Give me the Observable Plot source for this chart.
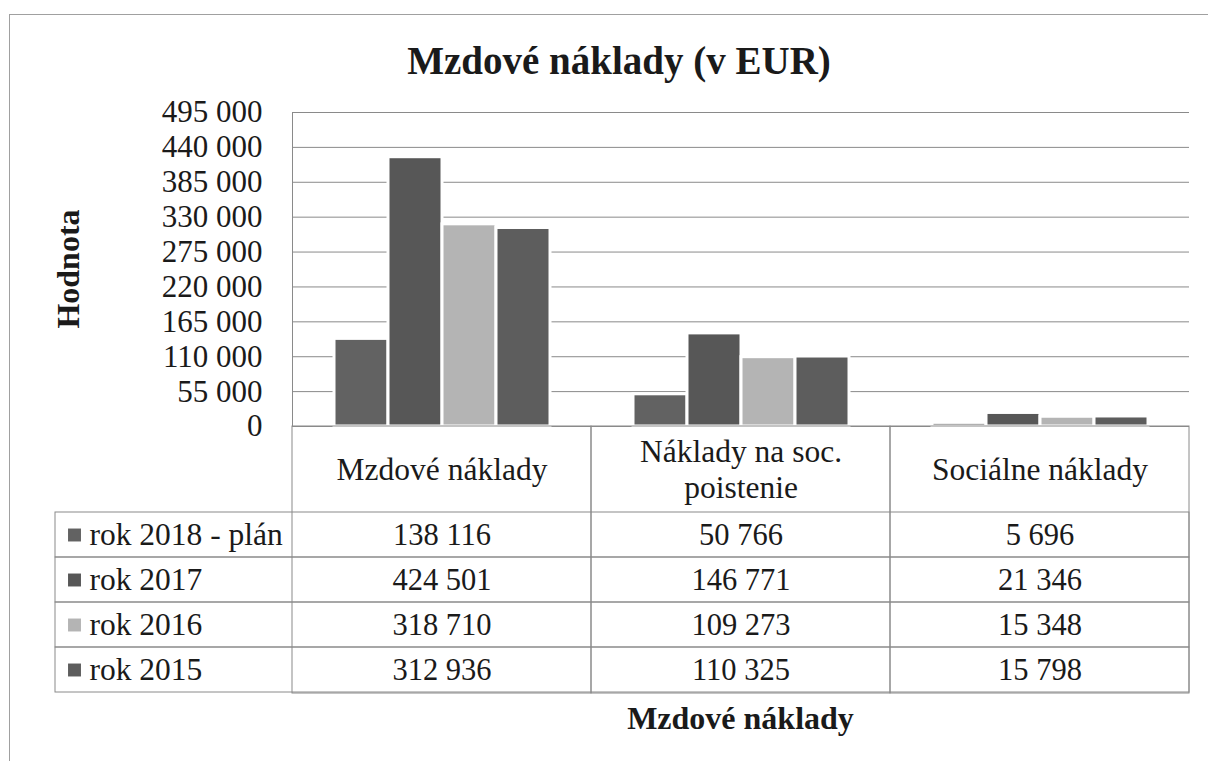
<!DOCTYPE html>
<html>
<head>
<meta charset="utf-8">
<script src="https://cdn.jsdelivr.net/npm/d3@7"></script>
<script src="https://cdn.jsdelivr.net/npm/@observablehq/plot@0.6"></script>
<style>
  html, body { margin: 0; padding: 0; background: #fff; overflow: hidden; }
  #wrap, #wrap div, #wrap svg, #wrap svg text, #wrap svg tspan { font-family: "Liberation Serif", "Times New Roman", serif !important; }
  #wrap { position: relative; width: 1208px; height: 761px; color: #1a1a1a; }
  #border { position: absolute; left: 9px; top: 14px; width: 1400px; height: 900px; border-left: 1px solid #a0a0a0; border-top: 1px solid #a0a0a0; }
  #title { position: absolute; left: 0; top: 41px; width: 1238px; text-align: center; font-weight: bold; font-size: 39px; line-height: 39px; }
  #xtitle { position: absolute; left: 292px; top: 702px; width: 897px; text-align: center; font-weight: bold; font-size: 32px; line-height: 32px; }
  #ytitle { position: absolute; left: 68px; top: 269px; width: 0; height: 0; }
  #ytitle span { position: absolute; left: 0; top: 0; transform: translate(-50%, -50%) rotate(-90deg); white-space: nowrap; font-weight: bold; font-size: 32px; line-height: 32px; }
  #p1 { position: absolute; left: 0; top: 0; }
  #p2 { position: absolute; left: 0; top: 420px; }
</style>
</head>
<body>
<div id="wrap">
  <div id="border"></div>
  <div id="p1"></div>
  <div id="p2"></div>
  <div id="title">Mzdové náklady (v EUR)</div>
  <div id="ytitle"><span>Hodnota</span></div>
  <div id="xtitle">Mzdové náklady</div>
</div>
<script>
const categories = ["Mzdové náklady", "Náklady na soc. poistenie", "Sociálne náklady"];
const headerLabels = ["Mzdové náklady", "Náklady na soc.\npoistenie", "Sociálne náklady"];
const series = ["rok 2018 - plán", "rok 2017", "rok 2016", "rok 2015"];
const values2018 = [138116, 50766, 5696];
const values2017 = [424501, 146771, 21346];
const values2016 = [318710, 109273, 15348];
const values2015 = [312936, 110325, 15798];
const yTicks = [0, 55000, 110000, 165000, 220000, 275000, 330000, 385000, 440000, 495000];
const seriesColors = ["#626262", "#575757", "#b4b4b4", "#5d5d5d"];

const seriesValues = [values2018, values2017, values2016, values2015];
const data = [];
series.forEach((s, si) => categories.forEach((c, ci) => data.push({series: s, category: c, value: seriesValues[si][ci]})));

const fmt = d => d3.format(",")(d).replace(/,/g, " ");
const font = "Liberation Serif";
const lineColor = "#8a8a8a";
const ink = "#1a1a1a";

const p1 = Plot.plot({
  width: 1208, height: 427,
  marginTop: 112, marginLeft: 292, marginRight: 19, marginBottom: 1,
  style: {fontFamily: font, background: "transparent", color: ink, overflow: "visible"},
  fx: {domain: categories, padding: 0, axis: null},
  x: {domain: series, paddingInner: 0, paddingOuter: 0.734, axis: null},
  y: {domain: [0, 495000]},
  color: {domain: series, range: seriesColors},
  marks: [
    Plot.gridY(yTicks, {stroke: lineColor, strokeOpacity: 1}),
    Plot.barY(data, {fx: "category", x: "series", y: "value", fill: "series", stroke: "white", strokeWidth: 3}),
    Plot.axisY({ticks: yTicks, tickSize: 0, tickPadding: 30, tickFormat: fmt, fontSize: 31,
                fontFamily: font, fill: ink, label: null}),
    Plot.frame({anchor: "left", facetAnchor: "left", stroke: lineColor})
  ]
});
document.getElementById("p1").appendChild(p1);

const p2 = Plot.plot({
  width: 1208, height: 275,
  marginTop: 6, marginLeft: 55, marginRight: 19, marginBottom: 2,
  style: {fontFamily: font, background: "transparent", color: ink, overflow: "visible"},
  x: {domain: categories, range: [292, 1189], padding: 0, axis: null},
  y: {domain: series, range: [91, 273], padding: 0, axis: null},
  color: {domain: series, range: seriesColors},
  marks: [
    Plot.cell(series, {y: d => d, fill: "none", stroke: lineColor}),
    Plot.cell(categories, {x: d => d, fill: "none", stroke: lineColor}),
    Plot.text(categories, {x: d => d, text: (d, i) => headerLabels[i], frameAnchor: "top", dy: 42,
                           lineAnchor: "middle", lineHeight: 1.15, fontSize: 31.5, fontFamily: font, fill: ink}),
    Plot.text(data, {x: "category", y: "series", text: d => fmt(d.value), fontSize: 30.5, fontFamily: font, fill: ink}),
    Plot.dot(series, {y: d => d, frameAnchor: "left", dx: 19, symbol: "square", r: 7.3, fill: d => d}),
    Plot.text(series, {y: d => d, frameAnchor: "left", dx: 34, textAnchor: "start", fontSize: 31.5, fontFamily: font, fill: ink})
  ]
});
document.getElementById("p2").appendChild(p2);
</script>
</body>
</html>
